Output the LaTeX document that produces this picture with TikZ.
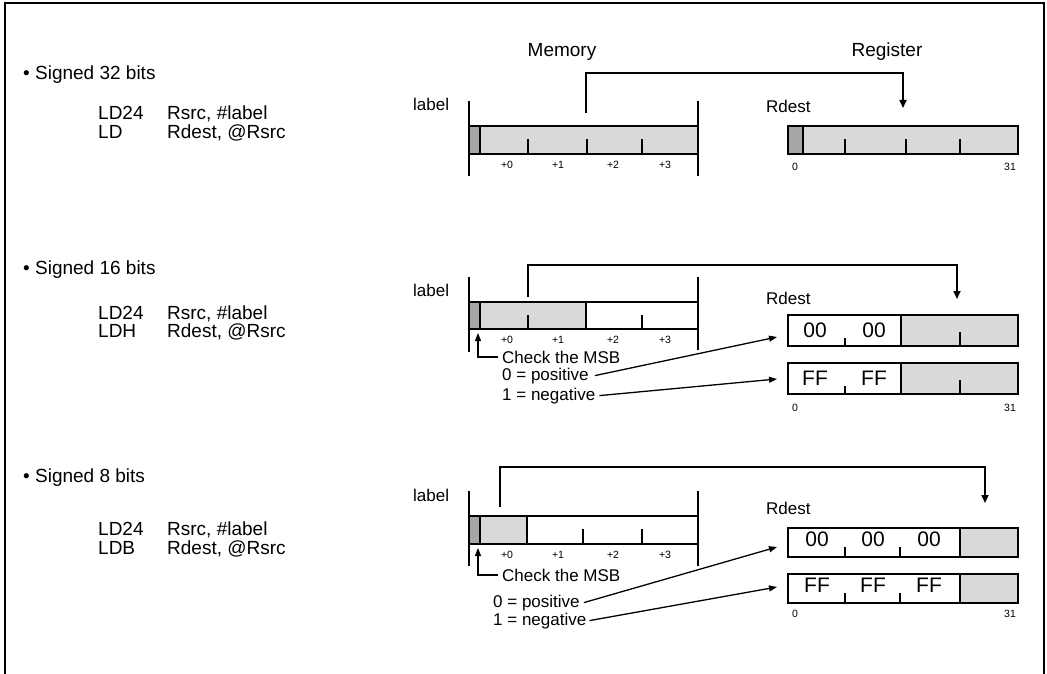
\documentclass[tikz,border=0pt]{standalone}
\usepackage{fontspec}
\setmainfont{Liberation Sans}
\usetikzlibrary{arrows.meta}
\definecolor{lgray}{RGB}{217,217,217}
\definecolor{dgray}{RGB}{166,166,166}
\begin{document}
\begin{tikzpicture}[x=1pt,y=-1pt,
  big/.style={inner sep=0pt, anchor=base west, font=\fontsize{19}{21}\selectfont},
  hdr/.style={inner sep=0pt, anchor=base, font=\fontsize{19}{21}\selectfont},
  lbl/.style={inner sep=0pt, anchor=base west, font=\fontsize{17}{19}\selectfont},
  cell/.style={inner sep=0pt, anchor=base, font=\fontsize{21}{23}\selectfont},
  tiny/.style={inner sep=0pt, anchor=base, font=\fontsize{10.5}{12}\selectfont},
  barbox/.style={draw, line width=1.6pt, inner sep=0pt, outer sep=0pt},
  edge/.style={line width=1.6pt},
  tick/.style={line width=1.5pt},
  conn/.style={line width=1.6pt, -{Triangle[length=8pt,width=7pt]}},
  note/.style={line width=1.3pt, -{Triangle[length=8pt,width=6pt]}}
]
\useasboundingbox (0,0) rectangle (1047,674);
% frame
\draw[line width=2pt] (4.5,674) -- (4.5,3.5) -- (1043.5,3.5) -- (1043.5,674);

% headers
\node[hdr] (hmem) at (562,57) {Memory};
\node[hdr] (hreg) at (887,57) {Register};

% ================= Section 1 =================
\node[big] (t1) at (23,80) {\textbullet\ Signed 32 bits};
\node[big] (t1a) at (98,120) {LD24};
\node[big] (t1b) at (167,120) {Rsrc, \#label};
\node[big] (t1c) at (98,139) {LD};
\node[big] (t1d) at (167,139) {Rdest, @Rsrc};

\node[lbl] (l1) at (413,111) {label};
\draw[edge] (469,101) -- (469,176);
\draw[edge] (698,101) -- (698,176);
\node[barbox, fill=lgray, minimum width=229pt, minimum height=28pt] (m1) at (583.5,140) {};
\node[barbox, fill=dgray, minimum width=11pt, minimum height=28pt] (m1d) at (474.5,140) {};
\draw[tick] (528,139) -- (528,154);
\draw[tick] (587,139) -- (587,154);
\draw[tick] (642,139) -- (642,154);
\node[tiny] (m1o0) at (507,168) {+0};
\node[tiny] (m1o1) at (558,168) {+1};
\node[tiny] (m1o2) at (613,168) {+2};
\node[tiny] (m1o3) at (665,168) {+3};

\node[lbl] (r1l) at (766,113) {Rdest};
\node[barbox, fill=lgray, minimum width=230pt, minimum height=28pt] (r1) at (903,140) {};
\node[barbox, fill=dgray, minimum width=15pt, minimum height=28pt] (r1d) at (795.5,140) {};
\draw[tick] (845,139) -- (845,154);
\draw[tick] (906,139) -- (906,154);
\draw[tick] (960,139) -- (960,154);
\node[tiny] (r1z) at (795,171) {0};
\node[tiny] (r1e) at (1010,171) {31};

\coordinate (c1s) at (586,113);
\coordinate (c1e) at (903,108);
\draw[conn] (c1s) -- ++(0,-40) -| (c1e);

% ================= Section 2 =================
\node[big] (t2) at (23,274) {\textbullet\ Signed 16 bits};
\node[big] (t2a) at (98,319) {LD24};
\node[big] (t2b) at (167,319) {Rsrc, \#label};
\node[big] (t2c) at (98,337) {LDH};
\node[big] (t2d) at (167,337) {Rdest, @Rsrc};

\node[lbl] (l2) at (413,296) {label};
\draw[edge] (469,277) -- (469,352);
\draw[edge] (698,277) -- (698,350);
\node[barbox, fill=white, minimum width=229pt, minimum height=27pt] (m2) at (583.5,315.5) {};
\node[barbox, fill=lgray, minimum width=117pt, minimum height=27pt] (m2g) at (527.5,315.5) {};
\node[barbox, fill=dgray, minimum width=11pt, minimum height=27pt] (m2d) at (474.5,315.5) {};
\draw[tick] (528,315) -- (528,329);
\draw[tick] (642,315) -- (642,329);
\node[tiny] (m2o0) at (507,343) {+0};
\node[tiny] (m2o1) at (558,343) {+1};
\node[tiny] (m2o2) at (613,343) {+2};
\node[tiny] (m2o3) at (665,343) {+3};

\node[lbl] (msb2) at (502,363) {Check the MSB};
\node[lbl] (pos2) at (502,380) {0 = positive};
\node[lbl] (neg2) at (502,400) {1 = negative};
\coordinate (tip2) at (478,333);
\draw[note] ([xshift=-4pt]msb2.west) -| (tip2);

\node[lbl] (r2l) at (766,304) {Rdest};
\node[barbox, fill=white, minimum width=230pt, minimum height=31pt] (r2a) at (903,330.5) {};
\node[barbox, fill=lgray, minimum width=117pt, minimum height=31pt] (r2ag) at (959.5,330.5) {};
\draw[tick] (845,338) -- (845,346);
\draw[tick] (960,332) -- (960,346);
\node[cell] (r2a1) at (815,337.5) {00};
\node[cell] (r2a2) at (874,337.5) {00};
\node[barbox, fill=white, minimum width=230pt, minimum height=31pt] (r2b) at (903,378.5) {};
\node[barbox, fill=lgray, minimum width=117pt, minimum height=31pt] (r2bg) at (959.5,378.5) {};
\draw[tick] (845,386) -- (845,394);
\draw[tick] (960,380) -- (960,394);
\node[cell] (r2b1) at (815,385.5) {FF};
\node[cell] (r2b2) at (874,385.5) {FF};
\node[tiny] (r2z) at (795,411) {0};
\node[tiny] (r2e) at (1010,411) {31};

\coordinate (a2p) at (777,337);
\coordinate (a2n) at (777,379);
\draw[note] ([xshift=6pt]pos2.east) -- (a2p);
\draw[note] ([xshift=4pt]neg2.east) -- (a2n);

\coordinate (c2s) at (528,297);
\coordinate (c2e) at (957,299);
\draw[conn] (c2s) -- ++(0,-32) -| (c2e);

% ================= Section 3 =================
\node[big] (t3) at (23,482) {\textbullet\ Signed 8 bits};
\node[big] (t3a) at (98,535) {LD24};
\node[big] (t3b) at (167,535) {Rsrc, \#label};
\node[big] (t3c) at (98,554) {LDB};
\node[big] (t3d) at (167,554) {Rdest, @Rsrc};

\node[lbl] (l3) at (413,501) {label};
\draw[edge] (469,491) -- (469,566);
\draw[edge] (698,491) -- (698,566);
\node[barbox, fill=white, minimum width=229pt, minimum height=28pt] (m3) at (583.5,530) {};
\node[barbox, fill=lgray, minimum width=58pt, minimum height=28pt] (m3g) at (498,530) {};
\node[barbox, fill=dgray, minimum width=11pt, minimum height=28pt] (m3d) at (474.5,530) {};
\draw[tick] (583,529) -- (583,544);
\draw[tick] (642,529) -- (642,544);
\node[tiny] (m3o0) at (507,558) {+0};
\node[tiny] (m3o1) at (558,558) {+1};
\node[tiny] (m3o2) at (613,558) {+2};
\node[tiny] (m3o3) at (665,558) {+3};

\node[lbl] (msb3) at (502,581) {Check the MSB};
\node[lbl] (pos3) at (493,607) {0 = positive};
\node[lbl] (neg3) at (493,625) {1 = negative};
\coordinate (tip3) at (478,548);
\draw[note] ([xshift=-4pt]msb3.west) -| (tip3);

\node[lbl] (r3l) at (766,514) {Rdest};
\node[barbox, fill=white, minimum width=230pt, minimum height=29pt] (r3a) at (903,542.5) {};
\node[barbox, fill=lgray, minimum width=58pt, minimum height=29pt] (r3ag) at (989,542.5) {};
\draw[tick] (845,547) -- (845,557);
\draw[tick] (900,547) -- (900,557);
\node[cell] (r3a1) at (817,546) {00};
\node[cell] (r3a2) at (873,546) {00};
\node[cell] (r3a3) at (929,546) {00};
\node[barbox, fill=white, minimum width=230pt, minimum height=29pt] (r3b) at (903,588.5) {};
\node[barbox, fill=lgray, minimum width=58pt, minimum height=29pt] (r3bg) at (989,588.5) {};
\draw[tick] (845,593) -- (845,603);
\draw[tick] (900,593) -- (900,603);
\node[cell] (r3b1) at (817,592) {FF};
\node[cell] (r3b2) at (873,592) {FF};
\node[cell] (r3b3) at (929,592) {FF};
\node[tiny] (r3z) at (795,617) {0};
\node[tiny] (r3e) at (1010,617) {31};

\coordinate (a3p) at (777,547);
\coordinate (a3n) at (777,587);
\draw[note] ([xshift=4pt]pos3.east) -- (a3p);
\draw[note] ([xshift=3pt]neg3.east) -- (a3n);

\coordinate (c3s) at (500,507);
\coordinate (c3e) at (985,503);
\draw[conn] (c3s) -- ++(0,-40) -| (c3e);
\end{tikzpicture}
\end{document}
